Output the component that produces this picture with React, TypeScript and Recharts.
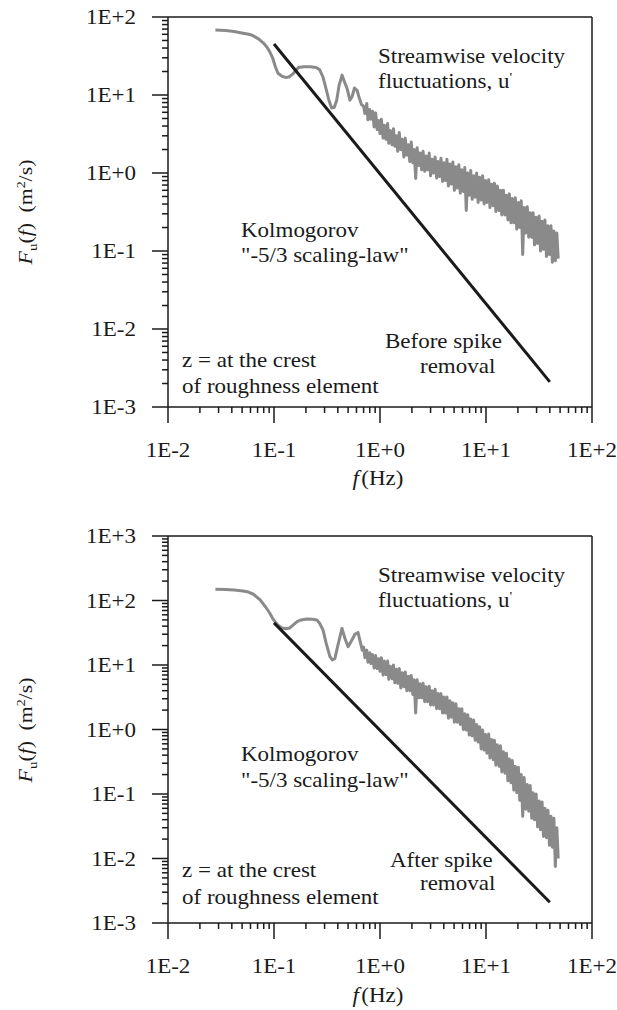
import React from 'react';
import { LineChart, Line, XAxis, YAxis, ReferenceLine, Customized } from 'recharts';

const FONT = 'Liberation Serif, serif';
const INK = '#1a1a1a';
const SX = 1.15; // the source lettering is drawn wide

// axis decades and their labels
const xMajor = [0.01, 0.1, 1, 10, 100];
const xLabels = ['1E-2', '1E-1', '1E+0', '1E+1', '1E+2'];
const topYMajor = [0.001, 0.01, 0.1, 1, 10, 100];
const topYLabels = ['1E-3', '1E-2', '1E-1', '1E+0', '1E+1', '1E+2'];
const bottomYMajor = [0.001, 0.01, 0.1, 1, 10, 100, 1000];
const bottomYLabels = ['1E-3', '1E-2', '1E-1', '1E+0', '1E+1', '1E+2', '1E+3'];

// Kolmogorov -5/3 reference line (end points)
const kolmogorovFreq = [0.1, 40];
const kolmogorovVal = [45, 0.0021];

// low-frequency part of the spectra
const topLowFreq = [0.028, 0.035, 0.042, 0.051, 0.058, 0.063, 0.072, 0.080, 0.086, 0.092,
  0.097, 0.103, 0.109, 0.118, 0.128, 0.138, 0.150, 0.160, 0.170, 0.190,
  0.220, 0.250, 0.270, 0.290, 0.310, 0.330, 0.350, 0.370, 0.390, 0.410,
  0.438, 0.46, 0.49, 0.52, 0.545, 0.575, 0.607, 0.64, 0.67];
const topLowVal = [68, 67, 65, 62, 60, 58, 52, 46, 41, 35,
  30, 23, 19, 17.5, 16.8, 17, 18.5, 20.5, 22.5, 23,
  23, 22.5, 21, 17, 12, 8.5, 6.8, 6.9, 8.5, 13,
  18, 15, 12, 8.6, 9.5, 12.3, 11.5, 9, 7.5];

const bottomLowFreq = [0.028, 0.035, 0.042, 0.051, 0.056, 0.064, 0.074, 0.083, 0.091, 0.097,
  0.102, 0.11, 0.119, 0.13, 0.141, 0.155, 0.165, 0.18, 0.204, 0.23,
  0.254, 0.27, 0.29, 0.31, 0.337, 0.355, 0.375, 0.40, 0.438, 0.47,
  0.50, 0.54, 0.58, 0.62, 0.655, 0.68];
const bottomLowVal = [150, 148, 145, 140, 137, 125, 102, 80, 64, 53,
  47, 41, 37.5, 36.5, 37.5, 43, 47, 50, 51.6, 51,
  50, 44, 35, 22, 13.5, 12, 12.5, 20, 37, 25,
  19.2, 24, 30, 32, 22, 17];

// noisy high-frequency band (shared frequency bins)
const bandFreq = [0.70, 0.72, 0.75, 0.77, 0.80, 0.82, 0.85, 0.88, 0.91, 0.94,
  0.97, 1.00, 1.03, 1.07, 1.10, 1.14, 1.18, 1.21, 1.25, 1.30,
  1.34, 1.38, 1.43, 1.47, 1.52, 1.57, 1.62, 1.68, 1.73, 1.79,
  1.85, 1.91, 1.97, 2.04, 2.10, 2.17, 2.24, 2.32, 2.39, 2.47,
  2.55, 2.64, 2.72, 2.81, 2.91, 3.00, 3.10, 3.20, 3.31, 3.42,
  3.53, 3.64, 3.76, 3.89, 4.01, 4.15, 4.28, 4.42, 4.57, 4.72,
  4.87, 5.03, 5.20, 5.37, 5.54, 5.72, 5.91, 6.11, 6.31, 6.51,
  6.73, 6.95, 7.18, 7.41, 7.65, 7.90, 8.16, 8.43, 8.71, 9.00,
  9.29, 9.60, 9.91, 10.2, 10.6, 10.9, 11.3, 11.7, 12.0, 12.4,
  12.8, 13.3, 13.7, 14.1, 14.6, 15.1, 15.6, 16.1, 16.6, 17.2,
  17.7, 18.3, 18.9, 19.5, 20.2, 20.8, 21.5, 22.2, 22.9, 23.7,
  24.5, 25.3, 26.1, 27.0, 27.8, 28.7, 29.7, 30.7, 31.7, 32.7,
  33.8, 34.9, 36.0, 37.2, 38.4, 39.7, 41.0, 42.3, 43.7, 45.1,
  46.6, 48.0];

const topBandVal = [7.2, 5.8, 7.8, 4.8, 6.5, 4.9, 6.2, 3.9, 5.9, 3.6,
  4.7, 3.2, 4.9, 2.8, 4.1, 2.7, 4.3, 2.4, 3.5, 2.3,
  3.7, 2.2, 3.0, 1.9, 3.3, 2.0, 2.7, 1.6, 2.8, 1.7,
  2.3, 1.4, 2.5, 1.35, 2.0, 0.85, 2.1, 1.25, 1.8, 1.1,
  1.9, 1.05, 1.65, 1.1, 1.8, 0.92, 1.5, 1.0, 1.6, 0.86,
  1.4, 0.9, 1.55, 0.78, 1.35, 0.8, 1.5, 0.68, 1.3, 0.72,
  1.38, 0.6, 1.2, 0.64, 1.28, 0.55, 1.1, 0.58, 1.18, 0.33,
  1.0, 0.52, 1.08, 0.46, 0.92, 0.49, 1.0, 0.42, 0.88, 0.45,
  0.92, 0.4, 0.8, 0.42, 0.82, 0.36, 0.72, 0.38, 0.74, 0.32,
  0.68, 0.33, 0.6, 0.29, 0.6, 0.29, 0.52, 0.25, 0.54, 0.23,
  0.47, 0.23, 0.48, 0.19, 0.42, 0.2, 0.44, 0.09, 0.36, 0.17,
  0.37, 0.15, 0.31, 0.15, 0.31, 0.12, 0.27, 0.125, 0.28, 0.1,
  0.24, 0.105, 0.25, 0.085, 0.21, 0.09, 0.21, 0.072, 0.18, 0.075,
  0.17, 0.08];

const bottomBandVal = [19, 13, 17, 11, 15.5, 10.5, 14.5, 9, 14, 8.8,
  12.5, 8, 13, 7, 11.5, 7.1, 11.5, 6, 9.6, 6.1,
  10, 5.3, 8.6, 5.2, 8.8, 4.4, 7.6, 4.6, 7.8, 4.0,
  6.7, 4.0, 6.9, 3.5, 5.9, 1.8, 5.9, 3.1, 5.1, 3.1,
  5.2, 2.7, 4.6, 2.7, 4.7, 2.4, 4.0, 2.4, 4.2, 2.1,
  3.6, 2.1, 3.6, 1.8, 3.2, 1.8, 3.2, 1.5, 2.8, 1.55,
  2.6, 1.3, 2.5, 1.3, 2.1, 1.2, 2.1, 1.0, 1.75, 0.98,
  1.7, 0.82, 1.45, 0.8, 1.4, 0.68, 1.2, 0.64, 1.1, 0.5,
  0.98, 0.48, 0.84, 0.43, 0.85, 0.36, 0.7, 0.34, 0.68, 0.28,
  0.58, 0.27, 0.56, 0.22, 0.45, 0.21, 0.43, 0.16, 0.35, 0.15,
  0.33, 0.115, 0.27, 0.105, 0.26, 0.08, 0.2, 0.045, 0.18, 0.058,
  0.14, 0.054, 0.135, 0.042, 0.105, 0.04, 0.1, 0.031, 0.078, 0.028,
  0.075, 0.022, 0.06, 0.021, 0.056, 0.016, 0.045, 0.015, 0.042, 0.0075,
  0.03, 0.01];

const toPoints = (fs: number[], vs: number[]) => fs.map((f, i) => ({ f, F: vs[i] }));

const topSpectrum = toPoints([...topLowFreq, ...bandFreq], [...topLowVal, ...topBandVal]);
const bottomSpectrum = toPoints([...bottomLowFreq, ...bandFreq], [...bottomLowVal, ...bottomBandVal]);
const kolmogorov = toPoints(kolmogorovFreq, kolmogorovVal);

// decades plus 2..9 minor ticks
const withMinor = (majors: number[]) =>
  majors.flatMap((d, i) => (i === majors.length - 1 ? [d] : [1, 2, 3, 4, 5, 6, 7, 8, 9].map((k) => k * d)));

const findLabel = (v: number, majors: number[], labels: string[]) => {
  const i = majors.findIndex((m) => Math.abs(Math.log10(m) - Math.log10(Number(v))) < 1e-4);
  return i >= 0 ? labels[i] : undefined;
};

const xTicks = withMinor(xMajor);

// serif text, stretched horizontally like the source lettering
function Txt({ x, y, anchor = 'start', size = 20, rotate = 0, children }: {
  x: number; y: number; anchor?: 'start' | 'middle' | 'end'; size?: number; rotate?: number; children: React.ReactNode;
}) {
  return (
    <text
      transform={`translate(${x},${y}) rotate(${rotate}) scale(${SX},1)`}
      textAnchor={anchor}
      fontFamily={FONT}
      fontSize={size}
      fill={INK}
    >
      {children}
    </text>
  );
}

const renderXTick = (props: any) => {
  const x = Number(props.x);
  const y = Number(props.y);
  const label = findLabel(props.payload.value, xMajor, xLabels);
  return (
    <g>
      <line x1={x} x2={x} y1={y} y2={y + (label ? 16 : 6)} stroke={INK} strokeWidth={1.5} />
      {label && <Txt x={x} y={y + 50} anchor="middle">{label}</Txt>}
    </g>
  );
};

const makeYTick = (majors: number[], labels: string[]) => (props: any) => {
  const x = Number(props.x);
  const y = Number(props.y);
  const label = findLabel(props.payload.value, majors, labels);
  return (
    <g>
      <line x1={x - (label ? 16 : 6)} x2={x} y1={y} y2={y} stroke={INK} strokeWidth={1.5} />
      {label && <Txt x={x - 32} y={y + 7} anchor="end">{label}</Txt>}
    </g>
  );
};

type Note = { x: number; y: number; text: string };

function Annotations({ notes, yTitleY, xTitleY }: { notes: Note[]; yTitleY: number; xTitleY: number }) {
  return (
    <g>
      {notes.map((n, i) => (
        <Txt key={i} x={n.x} y={n.y}>
          {n.text.endsWith("u'") ? (
            <>
              {n.text.slice(0, -1)}
              <tspan fontSize={13} dy={-7}>'</tspan>
            </>
          ) : n.text}
        </Txt>
      ))}
      <Txt x={32} y={yTitleY} anchor="middle" size={19} rotate={-90}>
        <tspan fontStyle="italic">F</tspan>
        <tspan fontSize={13} dy={5}>u</tspan>
        <tspan dy={-5}>(</tspan>
        <tspan fontStyle="italic">f</tspan>
        <tspan>)</tspan>
        <tspan dx={9}>(m</tspan>
        <tspan fontSize={12} dy={-7}>2</tspan>
        <tspan dy={7}>/s)</tspan>
      </Txt>
      <Txt x={378} y={xTitleY} anchor="middle">
        <tspan fontStyle="italic">f</tspan>
        <tspan dx={2}>(Hz)</tspan>
      </Txt>
    </g>
  );
}

type PanelProps = {
  top: number;
  marginTop: number;
  axisHeight: number;
  spectrum: { f: number; F: number }[];
  yMajor: number[];
  yLabels: string[];
  notes: Note[];
  yTitleY: number;
  xTitleY: number;
};

function Panel({ top, marginTop, axisHeight, spectrum, yMajor, yLabels, notes, yTitleY, xTitleY }: PanelProps) {
  const yTicks = withMinor(yMajor);
  const yMax = yMajor[yMajor.length - 1];
  return (
    <div style={{ position: 'absolute', left: 0, top, width: 617, height: 505 }}>
      <LineChart width={617} height={505} margin={{ top: marginTop, right: 25, bottom: 0, left: 0 }}>
        <XAxis
          dataKey="f"
          type="number"
          scale="log"
          domain={[0.01, 100]}
          ticks={xTicks}
          interval={0}
          tickSize={0}
          tickMargin={0}
          tickLine={false}
          tick={renderXTick}
          height={axisHeight}
          axisLine={{ stroke: INK, strokeWidth: 1.5 }}
          allowDataOverflow
        />
        <YAxis
          type="number"
          scale="log"
          domain={[yMajor[0], yMax]}
          ticks={yTicks}
          interval={0}
          tickSize={0}
          tickMargin={0}
          tickLine={false}
          tick={makeYTick(yMajor, yLabels)}
          width={168}
          axisLine={{ stroke: INK, strokeWidth: 1.5 }}
          allowDataOverflow
        />
        <ReferenceLine y={yMax} stroke={INK} strokeWidth={1.5} />
        <ReferenceLine x={100} stroke={INK} strokeWidth={1.5} />
        <Line
          data={spectrum}
          dataKey="F"
          type="linear"
          stroke="#8a8a8a"
          strokeWidth={3}
          strokeLinejoin="round"
          dot={false}
          activeDot={false}
          isAnimationActive={false}
        />
        <Line
          data={kolmogorov}
          dataKey="F"
          type="linear"
          stroke={INK}
          strokeWidth={3}
          dot={false}
          activeDot={false}
          isAnimationActive={false}
        />
        <Customized component={<Annotations notes={notes} yTitleY={yTitleY} xTitleY={xTitleY} />} />
      </LineChart>
    </div>
  );
}

const topNotes: Note[] = [
  { x: 378, y: 63, text: 'Streamwise velocity' },
  { x: 378, y: 88, text: "fluctuations, u'" },
  { x: 241, y: 237, text: 'Kolmogorov' },
  { x: 241, y: 262, text: '"-5/3 scaling-law"' },
  { x: 385, y: 348, text: 'Before spike' },
  { x: 420, y: 373, text: 'removal' },
  { x: 182, y: 367, text: 'z = at the crest' },
  { x: 182, y: 393, text: 'of roughness element' },
];

const bottomNotes: Note[] = [
  { x: 378, y: 77, text: 'Streamwise velocity' },
  { x: 378, y: 102, text: "fluctuations, u'" },
  { x: 241, y: 256, text: 'Kolmogorov' },
  { x: 241, y: 282, text: '"-5/3 scaling-law"' },
  { x: 390, y: 362, text: 'After spike' },
  { x: 420, y: 385, text: 'removal' },
  { x: 182, y: 372, text: 'z = at the crest' },
  { x: 182, y: 399, text: 'of roughness element' },
];

export default function App() {
  return (
    <div style={{ position: 'absolute', left: 0, top: 0, width: 617, height: 1010, background: '#fff' }}>
      <Panel
        top={0}
        marginTop={17}
        axisHeight={98}
        spectrum={topSpectrum}
        yMajor={topYMajor}
        yLabels={topYLabels}
        notes={topNotes}
        yTitleY={212}
        xTitleY={485}
      />
      <Panel
        top={505}
        marginTop={31}
        axisHeight={87}
        spectrum={bottomSpectrum}
        yMajor={bottomYMajor}
        yLabels={bottomYLabels}
        notes={bottomNotes}
        yTitleY={225}
        xTitleY={497}
      />
    </div>
  );
}
